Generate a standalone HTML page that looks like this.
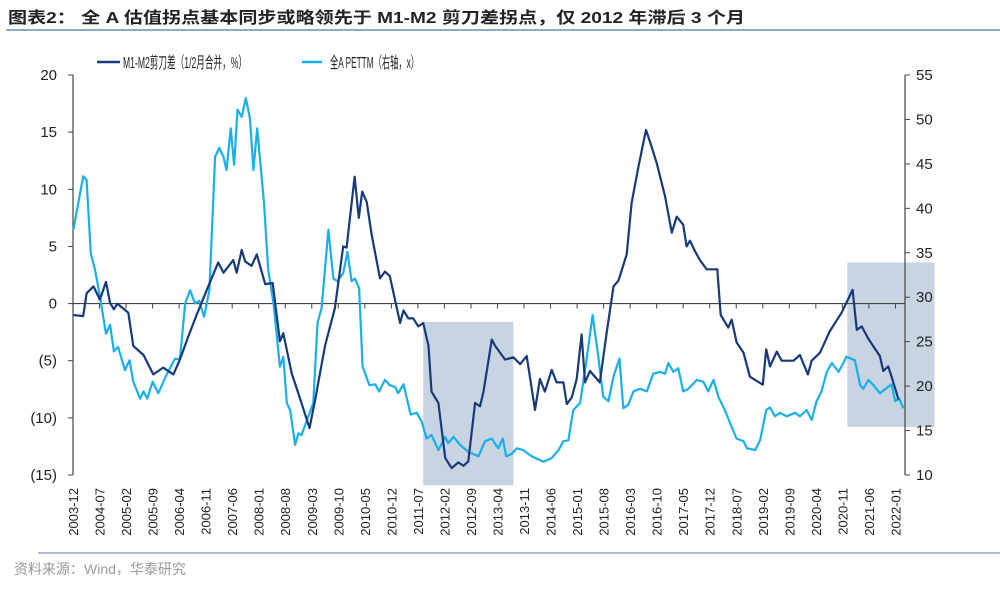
<!DOCTYPE html>
<html><head><meta charset="utf-8"><style>
html,body{margin:0;padding:0;background:#fff;}
body{width:1000px;height:586px;overflow:hidden;font-family:"Liberation Sans","Noto Sans CJK SC",sans-serif;}
svg text{font-family:"Liberation Sans","Noto Sans CJK SC",sans-serif;}
</style></head><body>
<svg id="chart" width="1000" height="586" viewBox="0 0 1000 586" xmlns="http://www.w3.org/2000/svg">
<text x="8" y="23" font-size="16" font-weight="bold" fill="#222" textLength="737" lengthAdjust="spacingAndGlyphs">图表2：  全 A 估值拐点基本同步或略领先于 M1-M2 剪刀差拐点，仅 2012 年滞后 3 个月</text>
<line x1="6" y1="30" x2="1000" y2="30" stroke="#8fa9c8" stroke-width="2"/>
<g>
<line x1="97" y1="62" x2="120" y2="62" stroke="#17397a" stroke-width="2.5"/>
<text x="123" y="68" font-size="16" fill="#222" textLength="124" lengthAdjust="spacingAndGlyphs">M1-M2剪刀差（1/2月合并，%）</text>
<line x1="302" y1="62" x2="322" y2="62" stroke="#19b0ea" stroke-width="2.5"/>
<text x="330" y="68" font-size="16" fill="#222" textLength="89" lengthAdjust="spacingAndGlyphs">全A PETTM（右轴，x）</text>
</g>
<g id="plot"></g>
<line x1="38" y1="553" x2="1000" y2="553" stroke="#8fa9c8" stroke-width="1.5"/>
<text x="14" y="574" font-size="14" fill="#999">资料来源：Wind，华泰研究</text>
</svg>
<script>
// month offsets from 2003-12
const m1m2Months=[0.1,2.7,3.6,5.4,7.1,8.7,9.8,10.8,11.7,14.6,15.9,18.6,21.2,23.8,26.5,28.2,30.4,32.6,35.3,38.3,39.7,42.3,43.2,44.5,45.4,47.1,48.5,50.7,52.7,54.6,55.5,57.7,59.9,62.4,63.9,66.5,69.1,71.3,72.2,74.3,75.4,76.3,77.5,78.8,81,82.3,83.6,86.3,87.2,88.5,89.8,91.1,92.4,93.8,94.6,96.4,98.2,99.9,101.7,103,104.3,106.1,107.4,108.3,110.5,111.4,114,116.2,118,119.7,121.9,123.2,124.5,126.3,127.6,129.4,130.3,131.6,132.9,134.2,135.1,136.4,139,140.8,142.6,143.9,146.1,147.4,149.2,151.2,152.3,154,156.2,158,159.3,161,161.9,162.8,164.1,165.4,167.2,170,170.9,172.9,173.8,175.1,176.9,178.6,182,182.9,183.9,185.7,187,190.1,191.8,193.9,194.9,197.1,199.7,202.8,205.7,206.8,208.1,209.9,212.9,213.8,215.1,216,217.8];
const m1m2Values=[-1.0,-1.1,0.9,1.5,0.35,1.9,0.06,-0.5,0,-0.8,-3.7,-4.5,-6.2,-5.6,-6.2,-4.9,-2.9,-1.0,1.2,3.6,2.7,3.8,2.7,4.7,3.7,3.3,4.3,1.7,1.8,-3.3,-2.6,-6.1,-8.3,-10.9,-8.4,-3.7,-0.4,5.0,4.9,11.1,7.5,9.8,8.9,6.0,2.2,2.8,2.4,-1.7,-0.6,-1.3,-1.3,-2.0,-1.7,-3.7,-7.7,-8.7,-13.5,-14.4,-13.9,-14.2,-13.8,-8.7,-9.0,-7.7,-3.15,-3.7,-4.9,-4.7,-5.3,-4.6,-9.3,-6.6,-7.7,-5.8,-6.9,-6.9,-8.8,-8.2,-6.6,-2.7,-6.9,-5.9,-6.9,-2.6,1.5,2.0,4.3,8.8,12.0,15.2,14.1,12.3,9.4,6.2,7.6,6.9,5.0,5.5,4.6,3.8,3.0,3.0,-1.0,-2.1,-1.4,-3.4,-4.3,-6.4,-7.1,-4.0,-5.5,-4.2,-5.0,-5.0,-4.5,-6.2,-5.0,-4.3,-2.4,-0.8,1.2,-2.3,-2.0,-3.1,-4.6,-5.9,-5.5,-6.4,-8.4];
const peMonths=[0.1,1.4,2.7,3.6,4.7,5.8,7.1,8.7,9.8,10.8,11.9,13.7,14.9,15.9,17.7,18.6,19.6,21.0,22.5,24.7,26.9,28.2,29.6,30.9,32.2,33.3,34.6,36.0,37.5,38.6,39.7,40.5,41.6,42.5,43.4,44.5,45.6,46.7,47.6,48.6,50.4,51.5,52.9,54.6,55.5,56.4,57.3,58.6,59.5,60.3,62.1,63.4,64.5,65.6,67.4,68.7,69.8,71.3,72.4,73.5,74.4,75.5,76.4,78.2,79.7,80.8,82.3,83.6,85,85.8,87.2,89.1,90.7,92,93.3,94.6,96.4,98.2,99.0,100.4,102.1,104.3,107,108.7,110.5,112.2,113.4,114.3,115.8,117.1,118.8,121,124.1,126.3,128.1,129.4,130.7,132,133.8,135.5,137.1,138.6,139.9,141.3,142.6,144.2,145.2,146.5,147.9,149.6,151.4,153.1,154.9,156.2,157.1,158.4,159.7,161,162.4,164.6,166.3,167.6,169,170.3,172,173.4,175.1,176.9,177.8,180,181.3,182.9,183.9,185.2,186.6,188.3,190.5,191.8,193.6,194.9,196.2,197.5,198.9,200.2,202,204.1,206.3,207.7,208.5,209.9,211.2,212.9,216,216.9,218,219.1];
const peValues=[37.6,40.6,43.6,43.2,34.9,33.1,30.1,25.9,26.9,23.9,24.4,21.8,22.9,20.5,18.6,19.4,18.6,20.5,19.2,21.3,23.1,23.0,29.3,30.8,29.3,29.6,27.8,30.8,45.8,46.8,45.8,44.3,49.0,44.9,51.1,50.3,52.4,50.1,44.3,49.0,40.6,33.1,29.3,22.2,23.3,18.1,17.3,13.4,14.7,14.5,16.6,18.1,27.1,28.8,37.6,32.1,31.8,32.7,35.1,31.8,32.1,31.0,22.2,20.1,20.2,19.4,20.7,20.1,19.9,19.2,20.2,16.8,17.0,16.0,14.1,14.5,12.8,14.3,13.6,14.3,13.4,12.6,12.1,13.8,14.1,13.0,14.1,12.1,12.4,13.0,12.8,12.1,11.5,11.9,12.8,13.8,13.9,17.3,18.1,22.9,28.0,23.3,18.8,18.3,21.1,23.1,17.5,17.9,19.4,19.7,19.4,21.4,21.6,21.4,22.6,21.6,22.0,19.4,19.7,20.7,20.5,19.4,20.7,18.8,17.3,15.8,14.1,13.8,13.0,12.8,13.9,17.3,17.6,16.6,17.0,16.6,17.0,16.6,17.3,16.2,18.3,19.4,21.6,22.6,21.6,23.3,22.9,20.1,19.7,20.7,20.1,19.2,20.2,18.3,18.6,17.5];
const leftTicks=[20,15,10,5,0,-5,-10,-15];
const rightTicks=[55,50,45,40,35,30,25,20,15,10];
const shadeStarts=[92.4,204.3];
const shadeEnds=[116.2,227.3];
const shadeTopLeft=[-1.6,3.6];
const shadeBottomLeft=[-15.9,-10.8];

const NS='http://www.w3.org/2000/svg';
const X0=73,X1=905,PX_PER_M=3.79,YT=75,YB=475;
const x=m=>X0+m*PX_PER_M;
const yL=v=>YT+(20-v)*(YB-YT)/35;
const yR=v=>YT+(55-v)*(YB-YT)/45;
const plot=document.getElementById('plot');
function mk(tag,attrs){const e=document.createElementNS(NS,tag);for(const k in attrs)e.setAttribute(k,attrs[k]);plot.appendChild(e);return e;}

for(let i=0;i<shadeStarts.length;i++){
  const r=mk('rect',{x:x(shadeStarts[i]),y:yL(shadeTopLeft[i]),width:x(shadeEnds[i])-x(shadeStarts[i]),height:yL(shadeBottomLeft[i])-yL(shadeTopLeft[i]),fill:'#c8d4e2'});
  
  
}
const la=mk('line',{x1:X0,y1:YT,x2:X0,y2:YB,stroke:'#444','stroke-width':1.2});


const ra=mk('line',{x1:X1,y1:YT,x2:X1,y2:YB,stroke:'#444','stroke-width':1.2});


leftTicks.forEach(v=>{
  mk('line',{x1:X0-5,y1:yL(v),x2:X0,y2:yL(v),stroke:'#444'});
  const t=mk('text',{x:X0-16,y:yL(v)+5,'font-size':15,'text-anchor':'end',fill:'#222'});
  t.textContent=v<0?'('+(-v)+')':String(v);
  
  
});
rightTicks.forEach(v=>{
  mk('line',{x1:X1,y1:yR(v),x2:X1+5,y2:yR(v),stroke:'#444'});
  const t=mk('text',{x:X1+11,y:yR(v)+5,'font-size':15,fill:'#222'});
  t.textContent=String(v);
  
  
});
const zl=mk('line',{x1:X0,y1:yL(0),x2:X1,y2:yL(0),stroke:'#444','stroke-width':1.2});


for(let k=0;k<=31;k++){
  const m=k*7,mx=x(m);
  mk('line',{x1:mx,y1:yL(0),x2:mx,y2:yL(0)+5,stroke:'#444'});
  const tot=2003*12+11+m,yr=Math.floor(tot/12),mo=tot%12+1;
  const t=mk('text',{x:0,y:0,'font-size':13,'text-anchor':'end',fill:'#222',transform:'translate('+(mx+5)+',488) rotate(-90)'});
  t.textContent=yr+'-'+(mo<10?'0':'')+mo;
  
  
}
function line(ms,vs,yf,color,name){
  const d=ms.map((m,i)=>(i?'L':'M')+x(m).toFixed(1)+','+yf(vs[i]).toFixed(1)).join('');
  const p=mk('path',{d:d,fill:'none',stroke:color,'stroke-width':2.2,'stroke-linejoin':'round'});
  
  
}
line(peMonths,peValues,yR,'#19b0ea','pe-ttm-line');
line(m1m2Months,m1m2Values,yL,'#17397a','m1-m2-line');
</script>
</body></html>
